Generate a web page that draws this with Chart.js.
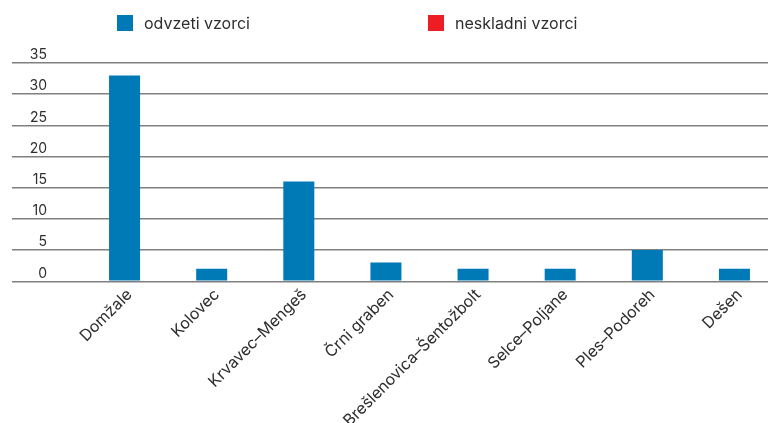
<!DOCTYPE html>
<html>
<head>
<meta charset="utf-8">
<script src="https://cdn.jsdelivr.net/npm/chart.js@4"></script>
<style>
  html, body { margin: 0; padding: 0; overflow: hidden; background: #fff; }
  #wrap { width: 778px; height: 423px; }
</style>
</head>
<body>
<div id="wrap"><canvas id="chart"></canvas></div>
<script>
var categories = ['Domžale', 'Kolovec', 'Krvavec–Mengeš', 'Črni graben', 'Brešlenovica–Šentožbolt', 'Selce–Poljane', 'Ples–Podoreh', 'Dešen'];
var odvzeti = [33, 2, 16, 3, 2, 2, 5, 2];
var neskladni = [0, 0, 0, 0, 0, 0, 0, 0];
var seriesNames = ['odvzeti vzorci', 'neskladni vzorci'];

var FONT = 'Inter, "Noto Sans", sans-serif';
var TEXT = '#2e2e2e';
var GRID = '#808080';

// legend drawn by hand, the items sit far apart in the original
var topLegend = {
    id: 'topLegend',
    afterDraw: function(chart) {
        var ctx = chart.ctx;
        var xs = [117, 428];
        ctx.save();
        ctx.font = '16px ' + FONT;
        ctx.textBaseline = 'middle';
        ctx.textAlign = 'left';
        chart.data.datasets.forEach(function(ds, i) {
            ctx.fillStyle = ds.backgroundColor;
            ctx.fillRect(xs[i], 15, 16, 16);
            ctx.fillStyle = TEXT;
            ctx.fillText(ds.label, xs[i] + 27, 24);
        });
        ctx.restore();
    }
};

var ctx = document.getElementById('chart').getContext('2d');
window.myChart = new Chart(ctx, {
    type: 'bar',
    data: {
        labels: categories,
        datasets: [{
            label: seriesNames[0],
            data: odvzeti,
            backgroundColor: '#0079b7'
        }, {
            label: seriesNames[1],
            data: neskladni,
            backgroundColor: '#ee1c25'
        }]
    },
    options: {
        responsive: true,
        maintainAspectRatio: false,
        animation: false,
        layout: { padding: { left: 12, top: 63, right: 0, bottom: 0 } },
        datasets: {
            bar: { grouped: false, categoryPercentage: 1, barPercentage: 0.356 }
        },
        plugins: {
            legend: { display: false },
            tooltip: { enabled: false }
        },
        scales: {
            x: {
                offset: true,
                grid: { display: false, drawTicks: false },
                border: { display: false },
                ticks: {
                    autoSkip: false,
                    maxRotation: 45,
                    minRotation: 45,
                    padding: 4,
                    labelOffset: 5,
                    color: TEXT,
                    font: { family: FONT, size: 16 }
                },
                afterFit: function(scale) { scale.height = 141.7; }
            },
            y: {
                min: 0,
                max: 35,
                border: { display: false },
                grid: { color: GRID, lineWidth: 1.4, drawTicks: true, tickLength: 69 },
                ticks: {
                    stepSize: 5,
                    padding: -35,
                    labelOffset: -8,
                    color: TEXT,
                    font: { family: FONT, size: 14 }
                },
                afterFit: function(scale) { scale.width = 69; }
            }
        }
    },
    plugins: [topLegend]
});
</script>
</body>
</html>
